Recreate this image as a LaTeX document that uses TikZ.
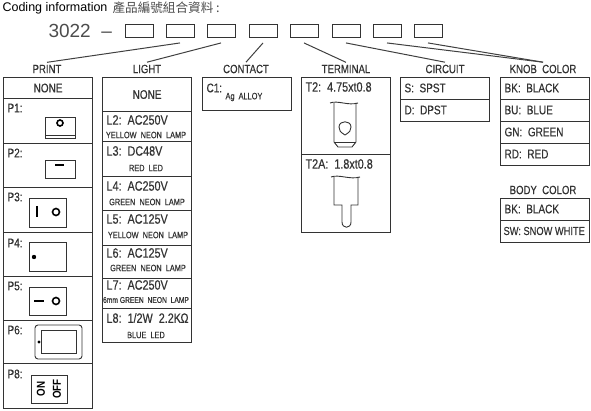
\documentclass[tikz,border=0pt]{standalone}
\usepackage{fontspec}
\setmainfont{Liberation Sans}
\newfontfamily\cadfont[FakeStretch=0.8,FakeBold=0.4]{Liberation Sans}
\newfontfamily\cadbold[FakeStretch=0.85]{Liberation Sans Bold}
\newfontfamily\cjkfont{Noto Sans CJK TC}
\definecolor{ink}{gray}{0.2}
\begin{document}
\begin{tikzpicture}[x=1pt, y=-1pt, line width=1.1pt, draw=ink, text=ink,
	slot_box/.style={draw, line width=0.9pt, minimum width=28pt, minimum height=13pt, inner sep=0pt},
	cell_box/.style={draw, anchor=north west, minimum width=89pt, inner sep=0pt},
	title_text/.style={font=\cadfont\fontsize{12}{12}\selectfont, inner sep=1pt},
	tag_text/.style={font=\cadfont\fontsize{12.5}{13}\selectfont, anchor=west, inner sep=0pt},
	num_text/.style={font=\cadfont\fontsize{13.5}{14}\selectfont, anchor=west, inner sep=0pt},
	sub_text/.style={font=\cadfont\fontsize{9.2}{10}\selectfont, inner sep=0pt},
	lead_line/.style={line width=1pt, black!75}]
	\useasboundingbox (0,0) rectangle (591,411);
	\node[anchor=west, inner sep=0pt, text=black, font=\fontsize{12.5}{14}\selectfont](info) at (2,8){Coding information};
	\node[anchor=west, inner sep=0pt, text=black!70, font=\cjkfont\fontsize{12.6}{14}\selectfont](infozh) at (112,8){產品編號組合資料 :};
	\node[anchor=west, inner sep=0pt, text=black!70, font=\fontsize{19}{20}\selectfont](code) at (48,31){3022\ \ --};
	\node[slot_box](sa) at (139,31){};
	\node[slot_box](sb) at (180,31){};
	\node[slot_box](sc) at (221,31){};
	\node[slot_box](sd) at (263,31){};
	\node[slot_box](se) at (304,31){};
	\node[slot_box](sf) at (346,31){};
	\node[slot_box](sg) at (387,31){};
	\node[slot_box](sh) at (428,31){};
	\node[title_text](tprint) at (47,69){PRINT};
	\node[title_text](tlight) at (147,69){LIGHT};
	\node[title_text](tcontact) at (246,69){CONTACT};
	\node[title_text](tterminal) at (346,69){TERMINAL};
	\node[title_text](tcircuit) at (445,69){CIRCUIT};
	\node[title_text](tknob) at (543,69){KNOB\ \ COLOR};
	\node[title_text](tbody) at (543,190){BODY\ \ COLOR};
	\draw[lead_line] ([yshift=-5pt]sb.south) -- ([yshift=1pt]tprint.north);
	\draw[lead_line] ([yshift=-5pt]sc.south) -- ([yshift=1pt]tlight.north);
	\draw[lead_line] ([yshift=-5pt]sd.south) -- ([yshift=1pt]tcontact.north);
	\draw[lead_line] ([yshift=-5pt]se.south) -- ([yshift=1pt]tterminal.north);
	\draw[lead_line] ([yshift=-5pt]sf.south) -- ([yshift=1pt]tcircuit.north);
	\draw[lead_line] ([yshift=-5pt]sg.south) -- ([yshift=1pt]tknob.north);
	\draw[lead_line] ([yshift=-5pt]sh.south) -- ([yshift=1pt]tknob.north);

	\node[cell_box, minimum height=21pt, font=\cadfont\fontsize{12.5}{13}\selectfont](pnone) at (3,77){NONE};
	\node[cell_box, minimum height=45pt](pa) at (3,98){};
	\node[cell_box, minimum height=44pt](pb) at (3,143){};
	\node[cell_box, minimum height=45pt](pc) at (3,187){};
	\node[cell_box, minimum height=44pt](pd) at (3,232){};
	\node[cell_box, minimum height=44pt](pe) at (3,276){};
	\node[cell_box, minimum height=43pt](pf) at (3,320){};
	\node[cell_box, minimum height=45pt](pg) at (3,363){};
	\node[tag_text](lpa) at (7,108){P1:};
	\node[tag_text](lpb) at (7,153){P2:};
	\node[tag_text](lpc) at (7,197){P3:};
	\node[tag_text](lpd) at (7,243){P4:};
	\node[tag_text](lpe) at (7,286){P5:};
	\node[tag_text](lpf) at (7,330){P6:};
	\node[tag_text](lpg) at (7,374){P8:};
	\draw[line width=0.9pt] (45,117) rectangle (75,138);
	\draw[line width=0.7pt] (45,135) -- (75,135);
	\draw[line width=1.6pt, draw=black] (60,123) circle (3);
	\draw[line width=0.9pt] (45,160) rectangle (75,178);
	\draw[line width=2pt, draw=black] (55,165) -- (64,165);
	\draw[line width=0.9pt] (29,198) rectangle (66,227);
	\draw[line width=1.6pt, draw=black] (37,206) -- (37,217);
	\draw[line width=1.6pt, draw=black] (56,212) circle (3.5);
	\draw[line width=0.9pt] (29,242) rectangle (66,271);
	\fill[black] (34,257) circle (2.2);
	\draw[line width=0.9pt] (29,287) rectangle (66,315);
	\draw[line width=1.6pt, draw=black] (34,301) -- (44,301);
	\draw[line width=1.6pt, draw=black] (56,301) circle (3.5);
	\draw[line width=0.9pt, rounded corners=3pt] (35,325) rectangle (82,359);
	\draw[line width=0.9pt] (41,330) rectangle (76,353);
	\fill[black] (39,342) circle (1.6);
	\draw[line width=0.9pt] (31,375) rectangle (67,403);
	\node[rotate=90, inner sep=0pt, text=black, font=\cadbold\fontsize{11.5}{12}\selectfont](on) at (41,389){ON};
	\node[rotate=90, inner sep=0pt, text=black, font=\cadbold\fontsize{11.5}{12}\selectfont](off) at (57,389){OFF};

	\node[cell_box, minimum height=34pt, font=\cadfont\fontsize{12.5}{13}\selectfont](lnone) at (102,77){NONE};
	\node[cell_box, minimum height=30pt](la) at (102,111){};
	\node[cell_box, minimum height=35pt](lb) at (102,141){};
	\node[cell_box, minimum height=34pt](lc) at (102,176){};
	\node[cell_box, minimum height=35pt](ld) at (102,210){};
	\node[cell_box, minimum height=33pt](le) at (102,245){};
	\node[cell_box, minimum height=30pt](lf) at (102,278){};
	\node[cell_box, minimum height=34pt](lg) at (102,308){};
	\node[num_text](laa) at (106,120){L2:\ \ AC250V};
	\node[sub_text](lab) at (146,135){YELLOW\ \ NEON\ \ LAMP};
	\node[num_text](lba) at (106,151){L3:\ \ DC48V};
	\node[sub_text](lbb) at (146,168){RED\ \ LED};
	\node[num_text](lca) at (106,186){L4:\ \ AC250V};
	\node[sub_text](lcb) at (147,202){GREEN\ \ NEON\ \ LAMP};
	\node[num_text](lda) at (106,219){L5:\ \ AC125V};
	\node[sub_text](ldb) at (148,235){YELLOW\ \ NEON\ \ LAMP};
	\node[num_text](lea) at (106,253){L6:\ \ AC125V};
	\node[sub_text](leb) at (148,268){GREEN\ \ NEON\ \ LAMP};
	\node[num_text](lfa) at (106,285){L7:\ \ AC250V};
	\node[sub_text, font=\cadfont\fontsize{8.4}{9}\selectfont](lfb) at (146,300){6mm GREEN\ \ NEON\ \ LAMP};
	\node[num_text](lga) at (106,318){L8:\ \ 1/2W\ \ 2.2K\kern-.5pt Ω};
	\node[sub_text](lgb) at (146,335){BLUE\ \ LED};

	\node[cell_box, minimum height=33pt](ca) at (202,77){};
	\node[tag_text](caa) at (206,88){C1:};
	\node[sub_text, anchor=west](cab) at (225,97){Ag\ \ ALLOY};

	\node[cell_box, minimum height=77pt](ta) at (301,77){};
	\node[cell_box, minimum height=78pt](tb) at (301,154){};
	\node[num_text](taa) at (305,87){T2:\ \ 4.75xt0.8};
	\node[num_text](tba) at (305,164){T2A:\ \ 1.8xt0.8};
	\draw[line width=0.9pt] (330,103) .. controls (338,100) and (348,106) .. (358,103);
	\draw[line width=0.9pt] (334,103) -- (334,142) -- (338,147) -- (352,147) -- (356,142) -- (356,103);
	\draw[line width=0.9pt] (334,142) -- (356,142);
	\draw[line width=0.9pt] (345,135) .. controls (340,132) and (339,130) .. (339,127) .. controls (339,120) and (351,120) .. (351,127) .. controls (351,130) and (350,132) .. (345,135);
	\draw[line width=0.9pt] (331,177) .. controls (339,174) and (350,180) .. (360,177);
	\draw[line width=0.9pt] (334,177) -- (334,205) -- (342,205) -- (342,222) .. controls (342,229) and (351,229) .. (351,222) -- (351,205) -- (358,205) -- (358,177);

	\node[cell_box, minimum height=22pt](sw) at (400,77){};
	\node[cell_box, minimum height=22pt](dw) at (400,99){};
	\node[tag_text](swa) at (404,88){S:\ \ SPST};
	\node[tag_text](dwa) at (404,110){D:\ \ DPST};

	\node[cell_box, minimum height=22pt](ka) at (500,77){};
	\node[cell_box, minimum height=22pt](kb) at (500,99){};
	\node[cell_box, minimum height=22pt](kc) at (500,121){};
	\node[cell_box, minimum height=22pt](kd) at (500,143){};
	\node[tag_text](kaa) at (504,88){BK:\ \ BLACK};
	\node[tag_text](kba) at (504,110){BU:\ \ BLUE};
	\node[tag_text](kca) at (504,132){GN:\ \ GREEN};
	\node[tag_text](kda) at (504,154){RD:\ \ RED};

	\node[cell_box, minimum height=22pt](ba) at (500,198){};
	\node[cell_box, minimum height=22pt](bb) at (500,220){};
	\node[tag_text](baa) at (504,209){BK:\ \ BLACK};
	\node[tag_text, font=\cadfont\fontsize{11.6}{13}\selectfont](bba) at (503,231){SW: SNOW\ WHITE};
\end{tikzpicture}
\end{document}
